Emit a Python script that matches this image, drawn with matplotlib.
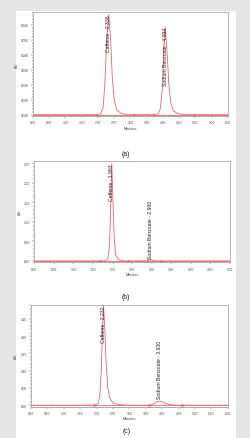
import matplotlib
matplotlib.use("Agg")
import matplotlib.pyplot as plt
from matplotlib.ticker import MultipleLocator, FormatStrFormatter
from matplotlib.patches import Rectangle

plt.rcParams['font.family'] = ['Liberation Sans', 'DejaVu Sans']

RED = '#ec6470'

# panel (a)
a_time = [0.00, 1.95, 2.08, 2.16, 2.21, 2.27, 2.33, 2.39, 2.44, 2.50, 2.58, 2.72, 2.90,
          3.70, 3.85, 3.92, 3.98, 4.02, 4.07, 4.12, 4.18, 4.24, 4.32, 4.46, 4.70, 6.00]
a_abs = [0.0, 0.0, 0.0005, 0.005, 0.020, 0.050, 0.0667, 0.050, 0.025, 0.010, 0.003, 0.0008, 0.0,
         0.0, 0.0005, 0.004, 0.017, 0.042, 0.0585, 0.044, 0.021, 0.008, 0.0025, 0.0007, 0.0, 0.0]
a_marks = [1.97, 3.10, 3.74, 4.95]
a_names = ['Caffeine - 2.336', 'Sodium Benzoate - 4.094']
a_rt = [2.33, 4.07]

# panel (b)
b_time = [0.00, 1.80, 1.88, 1.92, 1.95, 1.98, 2.01, 2.04, 2.08, 2.15, 2.30,
          2.88, 2.93, 2.96, 3.00, 3.06, 3.15, 5.00]
b_abs = [0.0, 0.0, 0.05, 0.40, 1.30, 2.48, 1.50, 0.60, 0.15, 0.03, 0.0,
         0.0, 0.02, 0.04, 0.02, 0.005, 0.0, 0.0]
b_marks = [1.68, 2.40, 2.87, 3.24]
b_names = ['Caffeine - 1.983', 'Sodium Benzoate - 2.960']
b_rt = [1.98, 2.96]

# panel (c)
c_time = [0.00, 1.95, 2.05, 2.10, 2.14, 2.18, 2.21, 2.25, 2.29, 2.34, 2.40, 2.50, 2.65, 2.90,
          3.60, 3.75, 3.85, 3.93, 4.02, 4.15, 4.40, 6.00]
c_abs = [0.0, 0.0, 0.005, 0.03, 0.10, 0.22, 0.288, 0.22, 0.12, 0.05, 0.02, 0.007, 0.002, 0.0,
         0.0, 0.004, 0.010, 0.012, 0.009, 0.003, 0.0, 0.0]
c_marks = [1.92, 3.60, 4.60]
c_names = ['Caffeine - 2.232', 'Sodium Benzoate - 3.930']
c_rt = [2.21, 3.93]

fig = plt.figure(figsize=(2.51, 4.39), dpi=100)
fig.patch.set_facecolor('#e6e6e6')
fig.patches.append(Rectangle((16 / 251, 0), 220 / 251, 1 - 12 / 439, transform=fig.transFigure,
                             facecolor='white', edgecolor='none', zorder=-5))


def panel(rect, t, y, marks, names, rt, label_y, label_va, xmax, ymax, ystep, yfmt, tag, tag_y):
    ax = fig.add_axes(rect)
    ax.set_zorder(2)
    ax.plot([0, xmax], [0, 0], color=RED, lw=0.6)
    ax.plot(t, y, color=RED, lw=0.6)
    ax.plot(marks, [0] * len(marks), linestyle='none', marker='^', ms=2.2, mfc='none',
            mec=RED, mew=0.4)
    for name, x, ly, va in zip(names, rt, label_y, label_va):
        ax.text(x, ly, name, rotation=90, ha='center', va=va, fontsize=3.7, color='#222222')
    ax.set_xlim(0, xmax)
    ax.set_ylim(-ymax * 0.015, ymax)
    ax.xaxis.set_major_locator(MultipleLocator(0.5))
    ax.xaxis.set_minor_locator(MultipleLocator(0.1))
    ax.xaxis.set_major_formatter(FormatStrFormatter('%.2f'))
    ax.yaxis.set_major_locator(MultipleLocator(ystep))
    ax.yaxis.set_minor_locator(MultipleLocator(ystep / 5))
    ax.yaxis.set_major_formatter(FormatStrFormatter(yfmt))
    ax.tick_params(labelsize=2.3, colors='#444444', length=1.5, width=0.3, pad=1.5)
    ax.tick_params(which='minor', length=0.8, width=0.3)
    for s in ax.spines.values():
        s.set_color('#999999')
        s.set_linewidth(0.5)
    ax.set_xlabel('Minutes', fontsize=2.8, labelpad=1, color='#444444')
    ax.set_ylabel('AU', fontsize=2.8, labelpad=1.5, color='#444444')
    fig.text(0.503, tag_y, tag, ha='center', va='center', fontsize=5, color='#222222')
    return ax


panel([0.1315, 0.733, 0.7765, 0.237], a_time, a_abs, a_marks, a_names, a_rt,
      [0.0668, 0.0586], ['top', 'top'], 6.0, 0.0683, 0.010, '%.3f', '(a)', 1 - 154 / 439)
panel([0.137, 0.400, 0.779, 0.231], b_time, b_abs, b_marks, b_names, b_rt,
      [2.49, 0.08], ['top', 'bottom'], 5.0, 2.56, 0.50, '%.2f', '(b)', 1 - 298 / 439)
panel([0.1235, 0.0713, 0.7845, 0.2323], c_time, c_abs, c_marks, c_names, c_rt,
      [0.289, 0.02], ['top', 'bottom'], 6.0, 0.291, 0.05, '%.2f', '(c)', 1 - 432 / 439)

fig.savefig('out.png', dpi=100, facecolor=fig.get_facecolor())
